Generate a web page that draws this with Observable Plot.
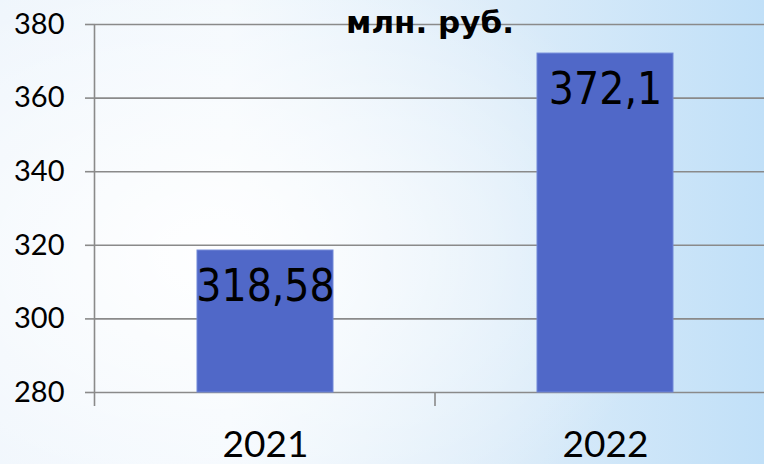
<!DOCTYPE html>
<html>
<head>
<meta charset="utf-8">
<script src="https://cdn.jsdelivr.net/npm/d3@7"></script>
<script src="https://cdn.jsdelivr.net/npm/@observablehq/plot@0.6"></script>
<style>
  html, body { margin: 0; padding: 0; }
  body {
    width: 764px; height: 464px; overflow: hidden;
    background:
      radial-gradient(ellipse 60% 70% at 28% 55%, rgba(255,255,255,0.95) 0%, rgba(255,255,255,0) 100%),
      linear-gradient(to right, #eef5fc 0%, #f2f8fd 30%, #dcecf9 65%, #c1e0f8 100%);
  }
  #chart svg { display: block; background: transparent; }
</style>
</head>
<body>
<div id="chart"></div>
<script>
(function () {
const years = ["2021", "2022"];
const values = [318.58, 372.1];
const valueLabels = ["318,58", "372,1"];
const yTicks = [280, 300, 320, 340, 360, 380];
const unitTitle = "млн. руб.";

const data = years.map((y, i) => ({year: y, value: values[i], label: valueLabels[i]}));

const W = 764, H = 464;
const plot = Plot.plot({
  width: W,
  height: H,
  marginLeft: 95,
  marginRight: 0,
  marginTop: 24,
  marginBottom: 72,
  style: {background: "transparent", fontFamily: "Lato, 'Open Sans', sans-serif", color: "#000"},
  x: {domain: years, range: [94.5, 775.5], paddingInner: 0.6, paddingOuter: 0.3},
  y: {domain: [280, 380], ticks: yTicks},
  marks: [
    Plot.gridY(yTicks, {stroke: "#8a8a8a", strokeOpacity: 1, strokeWidth: 1.6}),
    Plot.axisY(yTicks, {tickSize: 10, tickPadding: 21, fontSize: 29, stroke: "#8a8a8a", strokeWidth: 1.6, label: null, tickFormat: d => String(d), fill: "#000"}),
    Plot.barY(data, {x: "year", y1: 280, y2: "value", fill: "#5068c8", stroke: "#7088d8", strokeWidth: 1}),
    Plot.text(data, {x: "year", y: "value", text: "label", dy: 36, fontSize: 44, fill: "#000", fontFamily: "'DejaVu Sans Condensed', 'DejaVu Sans', sans-serif", fontStretch: "condensed"}),
    Plot.axisX(years, {tickSize: 0, tickPadding: 38, fontSize: 37, label: null, fill: "#000", fontFamily: "Lato, 'Open Sans', sans-serif"}),
    Plot.text([unitTitle], {frameAnchor: "top", lineAnchor: "bottom", dy: 8, fontSize: 31, fontWeight: "bold", fill: "#000", fontFamily: "'DejaVu Sans', sans-serif"})
  ]
});
document.getElementById("chart").appendChild(plot);

// Left axis line extended below the baseline, plus category-boundary ticks (Excel style)
const xs = plot.scale("x"), ys = plot.scale("y");
const yBase = ys.apply(280), yTop = ys.apply(380);
const svg = d3.select(plot);
const g = svg.append("g").attr("stroke", "#8a8a8a").attr("stroke-width", 1.6);
g.append("line").attr("x1", xs.range[0]).attr("x2", xs.range[0]).attr("y1", yTop).attr("y2", yBase + 14);
for (let i = 0; i < years.length - 1; i++) {
  const bx = xs.apply(years[i]) + xs.bandwidth + (xs.step - xs.bandwidth) / 2;
  g.append("line").attr("x1", bx).attr("x2", bx).attr("y1", yBase).attr("y2", yBase + 14);
}
})();
</script>
</body>
</html>
